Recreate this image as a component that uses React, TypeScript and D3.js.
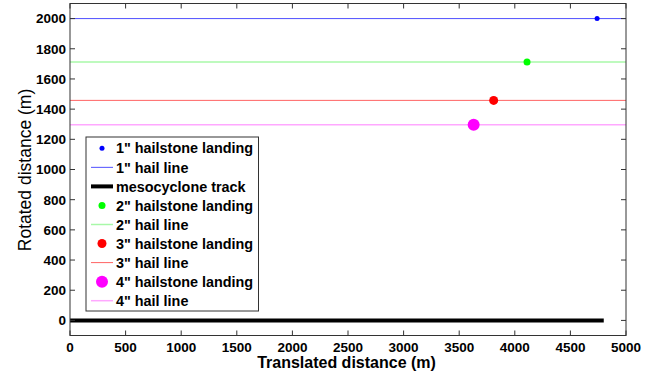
import React, { useEffect, useRef } from 'react';
import * as d3 from 'd3';

// hailstone landing points (translated x, rotated y), in metres
const sizes = ['1"', '2"', '3"', '4"'];
const landingX = [4740, 4110, 3810, 3630];
const landingY = [2000, 1713, 1458, 1297];
const hailColors = ['#0000ff', '#00ff00', '#ff0000', '#ff00ff'];
const lineColors = ['#5050ff', '#a8f8a8', '#ff6464', '#ffa8ff'];
const markerR = [2.5, 3.5, 4.5, 6];

// mesocyclone track
const trackX = [0, 4800];
const trackY = [0, 0];

const xTicks = [0, 500, 1000, 1500, 2000, 2500, 3000, 3500, 4000, 4500, 5000];
const yTicks = [0, 200, 400, 600, 800, 1000, 1200, 1400, 1600, 1800, 2000];

const App = () => {
  const svgRef = useRef<SVGSVGElement>(null);

  useEffect(() => {
    const svg = d3.select(svgRef.current);
    svg.selectAll('*').remove();

    const left = 70, right = 626, top = 3.5, bottom = 335.5;
    const x = d3.scaleLinear().domain([0, 5000]).range([left, right]);
    const y = d3.scaleLinear().domain([-100, 2100]).range([bottom, top]);
    const font = 'Liberation Sans, Arial, sans-serif';
    const axisColor = '#333';

    svg.append('rect').attr('width', 652).attr('height', 375).attr('fill', '#fff');

    // hail lines
    sizes.forEach((s, i) => {
      svg.append('line')
        .attr('x1', x(0)).attr('x2', x(5000))
        .attr('y1', y(landingY[i])).attr('y2', y(landingY[i]))
        .attr('stroke', lineColors[i]).attr('stroke-width', i === 1 || i === 3 ? 1.5 : 1);
    });

    // track
    svg.append('path')
      .attr('d', d3.line<number>().x((d, i) => x(trackX[i])).y((d, i) => y(trackY[i]))(trackX))
      .attr('stroke', '#000').attr('stroke-width', 4).attr('fill', 'none');

    // landing points
    sizes.forEach((s, i) => {
      svg.append('circle')
        .attr('cx', x(landingX[i])).attr('cy', y(landingY[i]))
        .attr('r', markerR[i]).attr('fill', hailColors[i]);
    });

    // box
    svg.append('rect')
      .attr('x', left).attr('y', top).attr('width', right - left).attr('height', bottom - top)
      .attr('fill', 'none').attr('stroke', axisColor).attr('stroke-width', 1);

    const tl = 5;
    xTicks.forEach(t => {
      svg.append('line').attr('x1', x(t)).attr('x2', x(t)).attr('y1', bottom).attr('y2', bottom - tl)
        .attr('stroke', axisColor);
      svg.append('line').attr('x1', x(t)).attr('x2', x(t)).attr('y1', top).attr('y2', top + tl)
        .attr('stroke', axisColor);
      svg.append('text').attr('x', x(t)).attr('y', bottom + 16.5)
        .attr('text-anchor', 'middle').attr('font-family', font).attr('font-weight', 'bold')
        .attr('font-size', 13.5).text(t);
    });
    yTicks.forEach(t => {
      svg.append('line').attr('x1', left).attr('x2', left + tl).attr('y1', y(t)).attr('y2', y(t))
        .attr('stroke', axisColor);
      svg.append('line').attr('x1', right).attr('x2', right - tl).attr('y1', y(t)).attr('y2', y(t))
        .attr('stroke', axisColor);
      svg.append('text').attr('x', left - 4).attr('y', y(t)).attr('dy', '0.36em')
        .attr('text-anchor', 'end').attr('font-family', font).attr('font-weight', 'bold')
        .attr('font-size', 13.5).text(t);
    });

    svg.append('text').attr('x', 346.5).attr('y', 368)
      .attr('text-anchor', 'middle').attr('font-family', font).attr('font-weight', 'bold')
      .attr('font-size', 16).text('Translated distance (m)');
    svg.append('text').attr('transform', `translate(31,170) rotate(-90)`)
      .attr('text-anchor', 'middle').attr('font-family', font)
      .attr('font-size', 17.5).text('Rotated distance (m)');

    // legend
    const lg = svg.append('g');
    lg.append('rect').attr('x', 86).attr('y', 137).attr('width', 172.5).attr('height', 174)
      .attr('fill', '#fff').attr('stroke', axisColor);
    const entries: { label: string; kind: string; color: string; r?: number; w?: number }[] = [];
    sizes.forEach((s, i) => {
      entries.push({ label: `${s} hailstone landing`, kind: 'dot', color: hailColors[i], r: markerR[i] });
      entries.push({ label: `${s} hail line`, kind: 'line', color: lineColors[i], w: i === 1 || i === 3 ? 1.5 : 1 });
      if (i === 0) entries.push({ label: 'mesocyclone track', kind: 'line', color: '#000', w: 4 });
    });
    entries.forEach((e, i) => {
      const cy = 148.3 + i * 19.05;
      if (e.kind === 'dot') {
        lg.append('circle').attr('cx', 102).attr('cy', cy).attr('r', e.r!).attr('fill', e.color);
      } else {
        lg.append('line').attr('x1', 91).attr('x2', 113).attr('y1', cy).attr('y2', cy)
          .attr('stroke', e.color).attr('stroke-width', e.w!);
      }
      lg.append('text').attr('x', 116).attr('y', cy).attr('dy', '0.36em')
        .attr('font-family', font).attr('font-weight', 'bold').attr('font-size', 14.4).text(e.label);
    });
  }, []);

  return <svg ref={svgRef} width={652} height={375} style={{ position: 'absolute', left: 0, top: 0 }} />;
};

export default App;
